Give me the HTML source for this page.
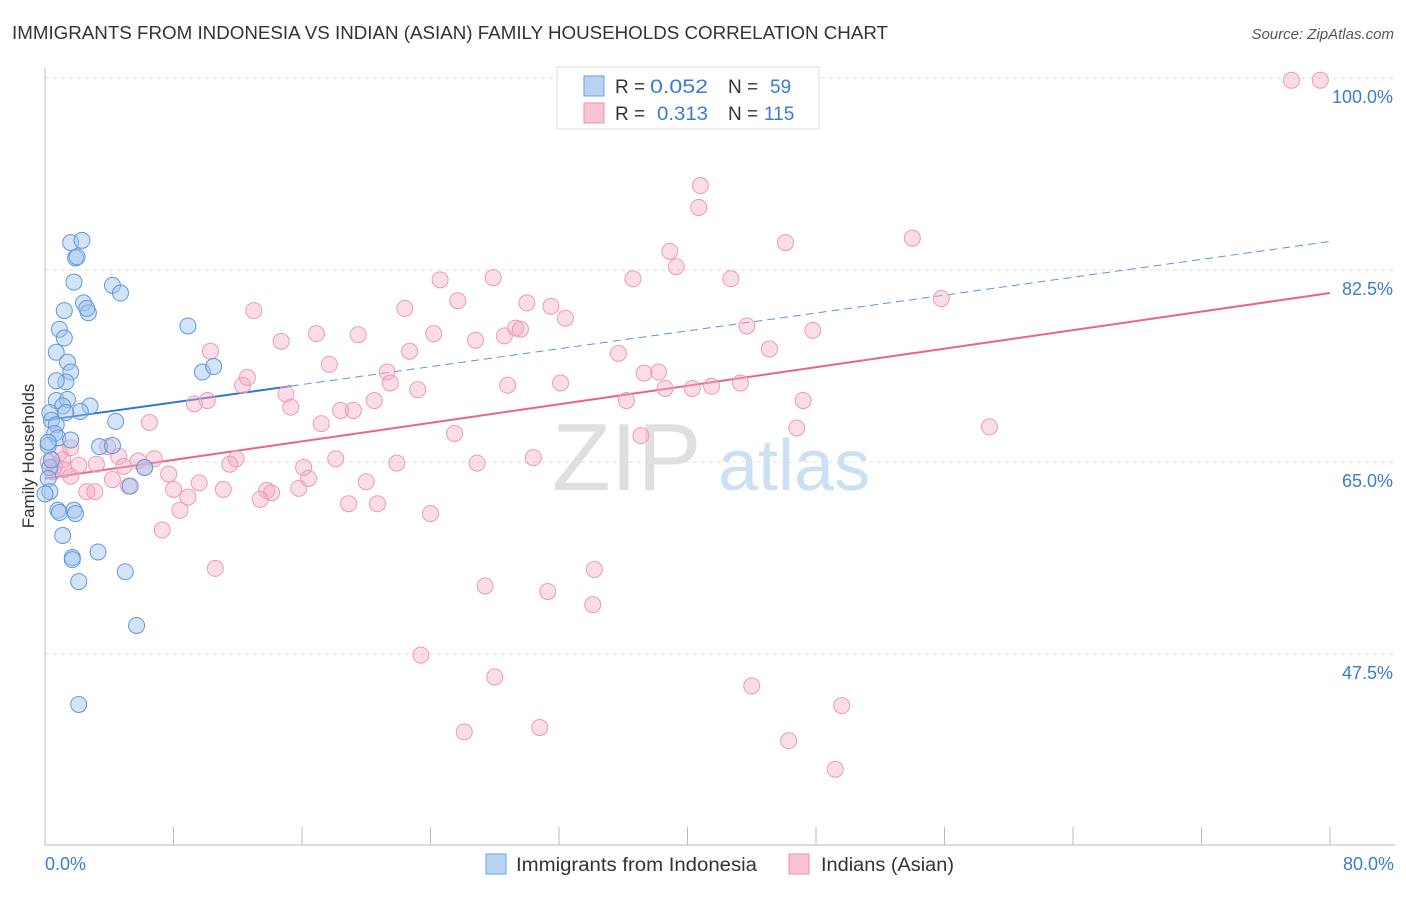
<!DOCTYPE html>
<html><head><meta charset="utf-8"><style>
body{margin:0;background:#fff;font-family:"Liberation Sans",sans-serif;}
svg text{font-family:"Liberation Sans",sans-serif;}
</style></head><body>
<svg id="chart" width="1406" height="892" viewBox="0 0 1406 892" xmlns="http://www.w3.org/2000/svg">
<text x="12" y="39" font-size="18" fill="#333" textLength="876" lengthAdjust="spacingAndGlyphs">IMMIGRANTS FROM INDONESIA VS INDIAN (ASIAN) FAMILY HOUSEHOLDS CORRELATION CHART</text>
<text x="1394" y="39" font-size="15" fill="#555" text-anchor="end" font-style="italic">Source: ZipAtlas.com</text>
<g>
<text x="552" y="490" font-size="96" fill="#d8d8d8" font-family="Liberation Serif" opacity="0.8">ZIP</text>
<text x="718" y="490" font-size="72" fill="#b8d2ee" opacity="0.7">atlas</text>
</g>
<g id="grid"></g>
<g id="axes"></g>
<g id="trends"></g>
<g id="points"></g>
<text transform="translate(34,456) rotate(-90)" font-size="17" fill="#333" text-anchor="middle">Family Households</text>
<text x="45" y="870" font-size="18" fill="#3a7bd5">0.0%</text>
<text x="1394" y="870" font-size="18" fill="#3a7bd5" text-anchor="end">80.0%</text>
<g>
<rect x="557" y="67" width="262" height="62" fill="#fff" stroke="#ddd"/>
<rect x="584" y="76" width="20" height="20" fill="#b8d3f4" stroke="#6a9fe0"/>
<rect x="584" y="103" width="20" height="20" fill="#f8c4d5" stroke="#e890ad"/>
<text x="615" y="93" font-size="19" fill="#333">R = </text><text x="650" y="93" font-size="19" fill="#3a7bd5" textLength="58" lengthAdjust="spacingAndGlyphs">0.052</text>
<text x="728" y="93" font-size="19" fill="#333">N = </text><text x="770" y="93" font-size="19" fill="#3a7bd5">59</text>
<text x="615" y="120" font-size="19" fill="#333">R = </text><text x="657" y="120" font-size="19" fill="#3a7bd5" textLength="51" lengthAdjust="spacingAndGlyphs">0.313</text>
<text x="728" y="120" font-size="19" fill="#333">N = </text><text x="764" y="120" font-size="19" fill="#3a7bd5">115</text>
</g>
<g>
<rect x="486" y="854" width="20" height="20" fill="#b8d3f4" stroke="#6a9fe0"/>
<text x="516" y="871" font-size="19" fill="#333" textLength="241" lengthAdjust="spacingAndGlyphs">Immigrants from Indonesia</text>
<rect x="789" y="854" width="20" height="20" fill="#f8c4d5" stroke="#e890ad"/>
<text x="821" y="871" font-size="19" fill="#333" textLength="133" lengthAdjust="spacingAndGlyphs">Indians (Asian)</text>
</g>
</svg>
<script>
const yTicks=[100,82.5,65,47.5];
const yTickLabels=["100.0%","82.5%","65.0%","47.5%"];
const xTicks=[0,8,16,24,32,40,48,56,64,72,80];
const blueX=[1.6,2.3,1.9,2.0,1.8,2.4,2.7,2.6,1.2,4.2,4.7,0.9,1.2,0.7,1.4,1.6,1.3,0.7,0.7,1.4,1.1,2.8,2.2,1.3,0.3,0.4,0.7,4.4,0.6,0.8,1.6,0.2,3.4,4.2,8.9,9.8,10.5,6.2,5.3,0.3,0.2,0.3,0.8,0.9,1.8,1.9,1.1,1.7,1.7,3.3,5.0,2.1,5.7,2.1,0.2,0.4,0.0];
const blueY=[85.0,85.2,83.6,83.7,81.4,79.5,78.6,79.0,78.8,81.1,80.4,77.1,76.3,75.0,74.1,73.2,72.3,72.4,70.6,70.7,70.1,70.1,69.6,69.5,69.5,68.8,68.4,68.7,67.6,67.2,67.0,66.5,66.4,66.5,77.4,73.2,73.7,64.5,62.8,64.5,63.5,62.3,60.6,60.4,60.6,60.3,58.3,56.3,56.1,56.8,55.0,54.1,50.1,42.9,66.8,65.2,62.1];
const pinkX=[77.6,79.4,40.8,40.7,54.0,46.1,38.9,39.3,24.6,27.9,36.6,42.7,25.7,30.0,31.5,32.4,22.4,55.8,13.0,43.7,47.8,16.9,19.5,24.2,26.8,28.6,29.3,29.6,14.7,10.3,22.7,35.7,45.1,17.7,21.3,21.5,23.2,37.3,38.2,32.1,28.8,40.3,41.5,43.3,38.6,12.3,12.6,15.0,10.1,9.3,15.3,20.5,18.4,19.2,36.2,47.2,17.2,6.5,25.5,37.1,46.8,58.8,1.6,3.9,4.6,1.1,5.8,6.8,11.9,11.5,4.9,16.1,18.1,3.2,6.2,7.7,26.9,30.4,21.9,2.1,0.6,1.2,4.2,1.6,9.6,20.0,5.2,16.4,8.0,15.8,8.9,11.1,13.8,14.1,13.4,2.6,3.1,18.9,20.7,8.4,24.0,7.3,10.6,34.2,27.4,31.3,34.1,23.4,28.0,44.0,49.6,26.1,30.8,46.3,49.2,0.2,0.5,0.9];
const pinkY=[99.8,99.8,90.2,88.2,85.4,85.0,84.2,82.8,81.6,81.8,81.7,81.7,79.7,79.5,79.2,78.1,79.0,79.9,78.8,77.4,77.0,76.7,76.6,76.7,76.1,76.5,77.2,77.1,76.0,75.1,75.1,74.9,75.3,73.9,73.2,72.2,71.6,73.1,73.2,72.2,72.0,71.7,71.9,72.2,71.7,72.0,72.7,71.2,70.6,70.3,70.0,70.6,69.7,69.7,70.6,70.6,68.5,68.6,67.6,67.4,68.1,68.2,66.3,66.4,65.5,65.2,65.1,65.3,65.3,64.8,64.6,64.5,65.3,64.8,64.5,63.9,64.9,65.4,64.9,64.7,64.6,64.3,63.4,63.7,63.1,63.2,62.8,63.5,62.5,62.6,61.8,62.5,62.4,62.2,61.6,62.3,62.3,61.2,61.2,60.6,60.3,58.8,55.3,55.2,53.7,53.2,52.0,47.4,45.4,44.6,42.8,40.4,40.8,39.6,37.0,65.0,64.1,65.8];
const blueTrend=[68.8,85.1];
const blueSolidEnd=15.3;
const pinkTrend=[63.5,80.4];

const NS="http://www.w3.org/2000/svg";
const X=v=>45+v/80*1285;
const Y=v=>78+(100-v)/17.5*192;
function mk(tag,attrs,parent){const e=document.createElementNS(NS,tag);for(const k in attrs)e.setAttribute(k,attrs[k]);document.getElementById(parent).appendChild(e);return e;}
yTicks.forEach((t,i)=>{
  const l=mk('line',{x1:45,x2:1395,y1:Y(t),y2:Y(t),stroke:'#dcdcdc','stroke-dasharray':'4,4'},'grid');
  
  
  const tx=mk('text',{x:1393,y:Y(t)+25,'font-size':18,fill:'#3a7bd5','text-anchor':'end'},'grid');
  tx.textContent=yTickLabels[i];
  
  
});
let a=mk('line',{x1:45,x2:45,y1:68,y2:845,stroke:'#bbb'},'axes');


a=mk('line',{x1:45,x2:1395,y1:845,y2:845,stroke:'#bbb'},'axes');


xTicks.forEach(t=>{
  const l=mk('line',{x1:X(t),x2:X(t),y1:827,y2:845,stroke:'#bbb'},'axes');
  
  
});
const slopeB=(blueTrend[1]-blueTrend[0])/80;
let t=mk('line',{x1:X(0),y1:Y(blueTrend[0]),x2:X(blueSolidEnd),y2:Y(blueTrend[0]+slopeB*blueSolidEnd),stroke:'#2f76d6','stroke-width':2},'trends');


t=mk('line',{x1:X(blueSolidEnd),y1:Y(blueTrend[0]+slopeB*blueSolidEnd),x2:X(80),y2:Y(blueTrend[1]),stroke:'#5a95e0','stroke-width':1,'stroke-dasharray':'8,5'},'trends');


t=mk('line',{x1:X(0),y1:Y(pinkTrend[0]),x2:X(80),y2:Y(pinkTrend[1]),stroke:'#e8648f','stroke-width':2},'trends');


pinkX.forEach((v,i)=>{
  const c=mk('circle',{cx:X(v),cy:Y(pinkY[i]),r:8,fill:'rgba(244,170,196,0.4)',stroke:'#ec9ab6','stroke-width':1},'points');
  
  
});
blueX.forEach((v,i)=>{
  const c=mk('circle',{cx:X(v),cy:Y(blueY[i]),r:8,fill:'rgba(160,196,240,0.45)',stroke:'#5f97de','stroke-width':1},'points');
  
  
});
</script>
</body></html>
